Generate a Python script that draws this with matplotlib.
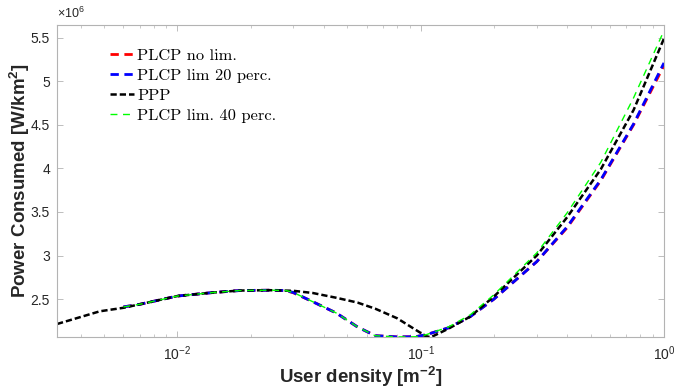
import matplotlib
matplotlib.use("Agg")
import matplotlib.pyplot as plt
import numpy as np
from matplotlib.ticker import LogLocator, NullFormatter, MultipleLocator, FuncFormatter

plt.rcParams["mathtext.fontset"] = "custom"
plt.rcParams["mathtext.rm"] = "Liberation Sans"
plt.rcParams["mathtext.bf"] = "Liberation Sans:bold"
plt.rcParams["mathtext.it"] = "Liberation Sans:italic"

# ---- data (power in units of 1e6 W/km^2) ----
x_ppp = [0.0032, 0.0048, 0.006, 0.007, 0.01, 0.014, 0.018, 0.024, 0.03, 0.036,
         0.045, 0.055, 0.065, 0.08, 0.095, 0.105, 0.11, 0.13, 0.16, 0.2, 0.3,
         0.4, 0.55, 0.75, 1.0]
ppp = [2.214, 2.36, 2.40, 2.44, 2.535, 2.575, 2.598, 2.602, 2.595, 2.57,
       2.515, 2.46, 2.39, 2.28, 2.15, 2.075, 2.062, 2.16, 2.30, 2.53, 3.0,
       3.44, 3.99, 4.67, 5.49]

x_plcp = [0.006, 0.007, 0.01, 0.014, 0.018, 0.024, 0.028, 0.03, 0.036, 0.045,
          0.055, 0.065, 0.08, 0.095, 0.105, 0.13, 0.16, 0.2, 0.3, 0.4, 0.55,
          0.75, 1.0]
plcp_nolim = [2.41, 2.44, 2.535, 2.575, 2.598, 2.602, 2.596, 2.572, 2.47, 2.34,
              2.18, 2.08, 2.066, 2.068, 2.09, 2.17, 2.30, 2.50, 2.93, 3.32,
              3.86, 4.50, 5.18]
plcp_lim20 = [2.41, 2.44, 2.535, 2.575, 2.598, 2.602, 2.598, 2.575, 2.47, 2.34,
              2.18, 2.08, 2.066, 2.068, 2.09, 2.17, 2.30, 2.50, 2.93, 3.33,
              3.87, 4.51, 5.21]
plcp_lim40 = [2.41, 2.44, 2.535, 2.575, 2.598, 2.602, 2.598, 2.575, 2.47, 2.34,
              2.18, 2.08, 2.066, 2.068, 2.09, 2.18, 2.32, 2.55, 3.03, 3.49,
              4.07, 4.81, 5.58]
scale = 1e6

labels = ["PLCP no lim.", "PLCP lim 20 perc.", "PPP", "PLCP lim. 40 perc."]

fig = plt.figure(figsize=(6.87, 3.89), dpi=100)
ax = fig.add_axes([57/687, 1 - 337/389, (664 - 57)/687, (337 - 25)/389])

s = lambda v: np.array(v) * scale
ax.plot(x_plcp, s(plcp_nolim), color="#ff0000", lw=2.0, ls=(0, (3, 2)), label=labels[0])
ax.plot(x_plcp, s(plcp_lim20), color="#0000ff", lw=2.0, ls=(0, (3, 2)), label=labels[1])
ax.plot(x_ppp, s(ppp), color="#000000", lw=1.8, ls=(0, (2.5, 1.2)), label=labels[2])
ax.plot(x_plcp, s(plcp_lim40), color="#00ff00", lw=1.0, ls=(0, (5, 4)), label=labels[3])

ax.set_xscale("log")
ax.set_xlim(0.0032, 1.0)
ax.set_ylim(2.065e6, 5.645e6)

ax.xaxis.set_major_locator(LogLocator(base=10, numticks=10))
ax.xaxis.set_minor_locator(LogLocator(base=10, subs=np.arange(2, 10), numticks=20))
ax.xaxis.set_minor_formatter(NullFormatter())
ax.yaxis.set_major_locator(MultipleLocator(0.5e6))
ax.yaxis.set_major_formatter(FuncFormatter(lambda v, p: "%g" % (v / scale)))

tick_col = "#262626"
spine_col = "#b3b3b3"
for sp in ax.spines.values():
    sp.set_color(spine_col)
    sp.set_linewidth(0.8)
ax.tick_params(which="both", direction="in", top=True, right=True,
               color=spine_col, labelcolor=tick_col, labelsize=10)
ax.tick_params(which="major", length=4, width=0.6, pad=5)
ax.tick_params(which="minor", length=2.5, width=0.5)
for t in ax.get_xticklabels() + ax.get_yticklabels():
    t.set_family("Liberation Sans")

ax.text(0.0, 1.012, r"$\times10^{6}$", transform=ax.transAxes, fontsize=9,
        color=tick_col, ha="left", va="bottom")

ax.set_xlabel(r"User density [m$^{\mathbf{-2}}$]", fontsize=13.5, fontweight="bold",
              family="Liberation Sans", color=tick_col)
ax.set_ylabel(r"Power Consumed [W/km$^{\mathbf{2}}$]", fontsize=13.5, fontweight="bold",
              family="Liberation Sans", color=tick_col)
ax.xaxis.set_label_coords(0.5, -0.088)
ax.yaxis.set_label_coords(-0.042, 0.5)
ax.xaxis.label.set_va("top")
ax.yaxis.label.set_va("bottom")

leg = ax.legend(loc="upper left", bbox_to_anchor=(0.088, 0.925), frameon=False,
                prop={"family": "cmr10", "size": 11.8}, handlelength=1.45,
                handletextpad=0.2, labelspacing=0.33, borderaxespad=0, borderpad=0)

fig.savefig("out.png", dpi=100)
